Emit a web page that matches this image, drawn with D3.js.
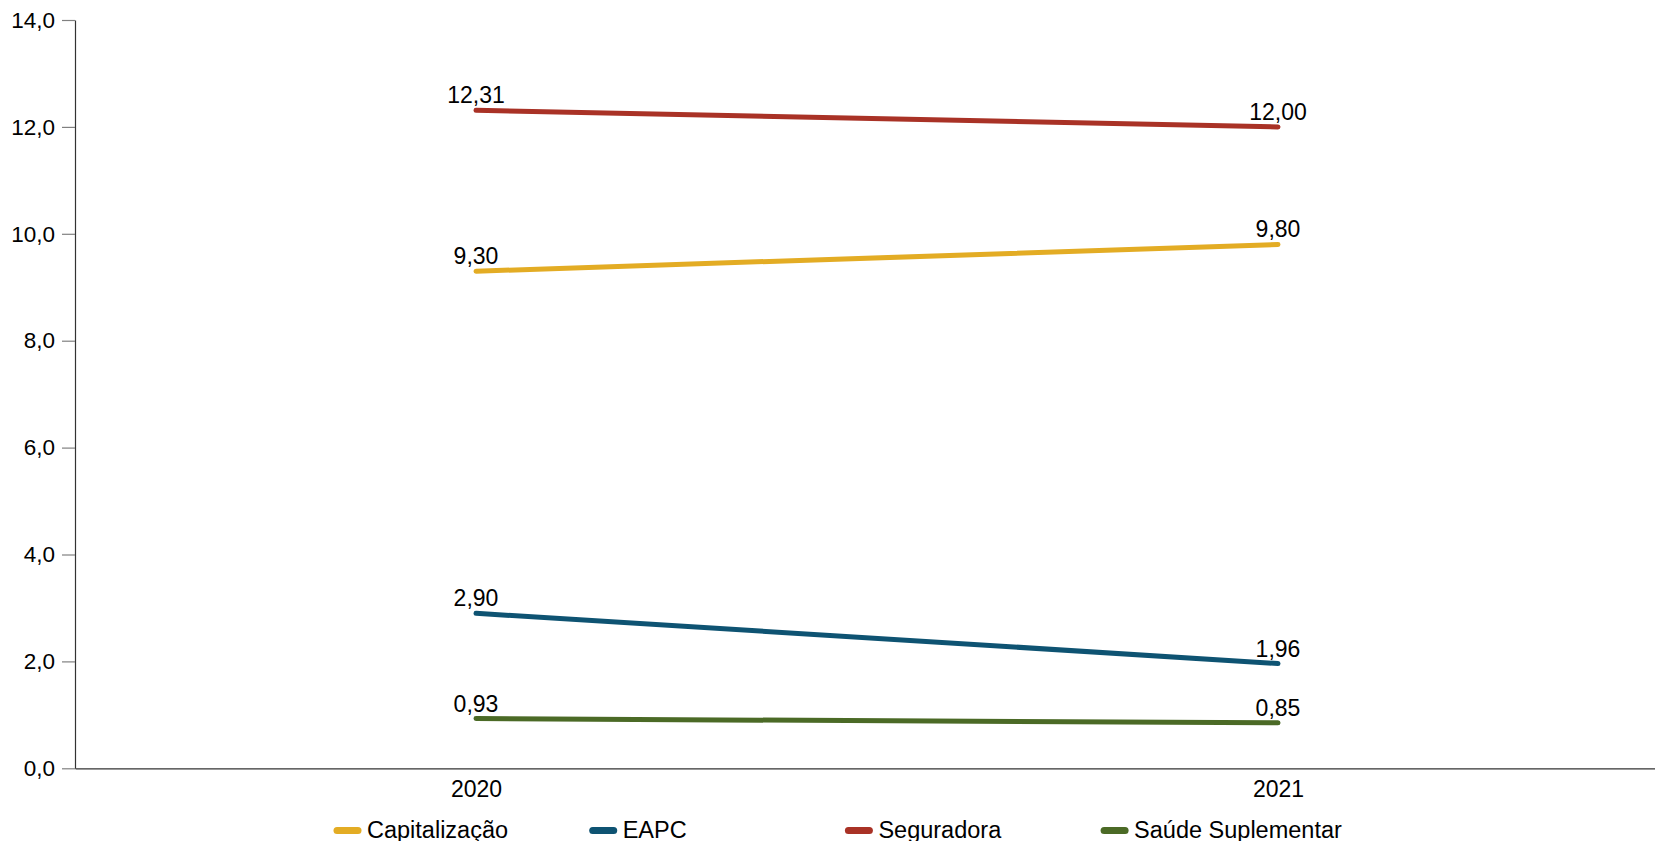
<!DOCTYPE html>
<html>
<head>
<meta charset="utf-8">
<script src="https://cdn.jsdelivr.net/npm/d3@7"></script>
<style>
	body { margin: 0; background: #fff; }
	svg { display: block; }
	svg text { font-family: "Liberation Sans", Arial, sans-serif; }
</style>
</head>
<body>
<svg id="svg" width="1655" height="841"></svg>
<script>
"use strict";

// data
const years = ["2020", "2021"];
const capitalizacao = [9.3, 9.8];
const eapc = [2.9, 1.96];
const seguradora = [12.31, 12.0];
const saudeSuplementar = [0.93, 0.85];

const seriesNames = ["Capitalização", "EAPC", "Seguradora", "Saúde Suplementar"];
const seriesValues = [capitalizacao, eapc, seguradora, saudeSuplementar];
const seriesColors = ["#e3ac24", "#0e5372", "#a93226", "#4b6a26"];
const yTicks = [0, 2, 4, 6, 8, 10, 12, 14];

// brazilian number format (comma decimal)
const locale = d3.formatLocale({ decimal: ",", thousands: ".", grouping: [3], currency: ["R$", ""] });
const fmtTick = locale.format(".1f");
const fmtLabel = locale.format(".2f");

const svg = d3.select("#svg");

const x = d3.scalePoint().domain(years).range([75, 1679]).padding(0.5);
const y = d3.scaleLinear().domain([0, 14]).range([768.3, 20]);

// y axis
const yAxis = svg
	.append("g")
	.attr("transform", "translate(75,0)")
	.call(
		d3.axisLeft(y).tickValues(yTicks).tickFormat(fmtTick).tickSize(13).tickSizeOuter(0).tickPadding(7)
	)
	.attr("font-family", null)
	.attr("font-size", null);
yAxis.select(".domain").attr("stroke", "#333").attr("stroke-width", 1.2);
yAxis.selectAll(".tick line").attr("stroke", "#808080").attr("stroke-width", 1.2);
yAxis.selectAll(".tick text").attr("font-size", "22.5px").attr("fill", "#000");

// x axis
const xAxis = svg
	.append("g")
	.attr("transform", `translate(0,${y(0)})`)
	.call(d3.axisBottom(x).tickSize(0).tickSizeOuter(0).tickPadding(12))
	.attr("font-family", null)
	.attr("font-size", null);
xAxis.select(".domain").attr("stroke", "#333").attr("stroke-width", 1.2);
xAxis.selectAll(".tick text").attr("font-size", "23px").attr("fill", "#000");

// lines
const line = d3
	.line()
	.x((d, i) => x(years[i]))
	.y((d) => y(d));

const series = svg
	.selectAll(".series")
	.data(seriesValues)
	.enter()
	.append("g")
	.attr("class", "series");

series
	.append("path")
	.attr("d", (d) => line(d))
	.attr("fill", "none")
	.attr("stroke", (d, i) => seriesColors[i])
	.attr("stroke-width", 5)
	.attr("stroke-linecap", "round");

// value labels
series
	.selectAll("text")
	.data((d) => d)
	.enter()
	.append("text")
	.attr("x", (d, i) => x(years[i]))
	.attr("y", (d) => y(d) - 7)
	.attr("text-anchor", "middle")
	.attr("font-size", "23px")
	.attr("fill", "#000")
	.text((d) => fmtLabel(d));

// legend
const legend = svg
	.append("g")
	.attr("transform", "translate(334,0)")
	.selectAll("g")
	.data(seriesNames)
	.enter()
	.append("g")
	.attr("transform", (d, i) => `translate(${i * 255.7},0)`);

legend
	.append("line")
	.attr("x1", 3)
	.attr("x2", 24)
	.attr("y1", 830.5)
	.attr("y2", 830.5)
	.attr("stroke", (d, i) => seriesColors[i])
	.attr("stroke-width", 7)
	.attr("stroke-linecap", "round");

legend
	.append("text")
	.attr("x", 33)
	.attr("y", 837.5)
	.attr("font-size", "23.5px")
	.attr("fill", "#000")
	.text((d) => d);
</script>
</body>
</html>
